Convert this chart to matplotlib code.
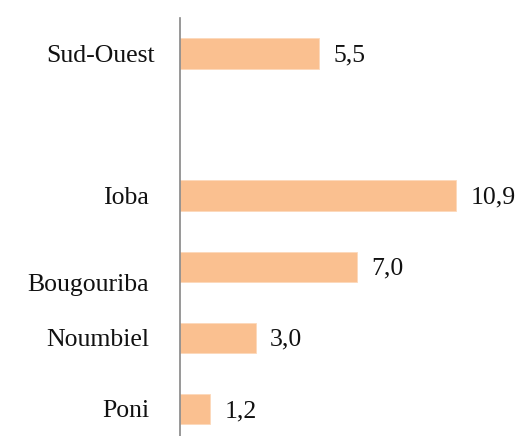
import matplotlib
matplotlib.use("Agg")
import matplotlib.pyplot as plt
import matplotlib.transforms as mtransforms
import numpy as np

# Data (top to bottom); empty string = blank slot in the original chart
categories = ["Sud-Ouest", "", "Ioba", "Bougouriba", "Noumbiel", "Poni"]
values = [5.5, np.nan, 10.9, 7.0, 3.0, 1.2]
value_labels = ["5,5", "", "10,9", "7,0", "3,0", "1,2"]

plt.rcParams['font.family'] = ['Liberation Serif', 'DejaVu Serif']

W, H, DPI = 525, 436, 100
fig = plt.figure(figsize=(W / DPI, H / DPI), dpi=DPI)
ax = fig.add_axes([180 / W, 0, 345 / W, 418 / H])

n = len(categories)
pos = np.arange(n)[::-1]  # top category gets highest position
vals = np.array(values, dtype=float)
mask = ~np.isnan(vals)

ax.barh(pos[mask], vals[mask], height=0.43, color="#FAC090",
        edgecolor="#FCD9BA", linewidth=0.6, zorder=2)

ax.set_ylim(-0.38, 5.5)
ax.set_xlim(0, 345 / 25.35)

FS = 18.5
# value labels
for p, v, lab in zip(pos, vals, value_labels):
    if np.isnan(v):
        continue
    ax.annotate(lab, xy=(v, p), xytext=(14, -2), textcoords="offset pixels",
                ha="left", va="center", fontsize=FS, color="#111111")

# category labels
ax.set_yticks(pos[mask])
ax.set_yticklabels([c for c, m in zip(categories, mask) if m], fontsize=FS, color="#111111")
ax.tick_params(axis="y", length=0, pad=31 * 72 / DPI)
ax.set_xticks([])
for lbl in ax.get_yticklabels():
    t = lbl.get_text()
    dx, dy = 0, 0
    if t == "Sud-Ouest":
        dx = 6
    if t == "Bougouriba":
        dy = -16
    if dx or dy:
        lbl.set_transform(lbl.get_transform() + mtransforms.Affine2D().translate(dx, dy))

for s in ["top", "right", "bottom"]:
    ax.spines[s].set_visible(False)
ax.spines["left"].set_color("#868686")
ax.spines["left"].set_linewidth(1.2)

fig.savefig("out.png", dpi=DPI)
